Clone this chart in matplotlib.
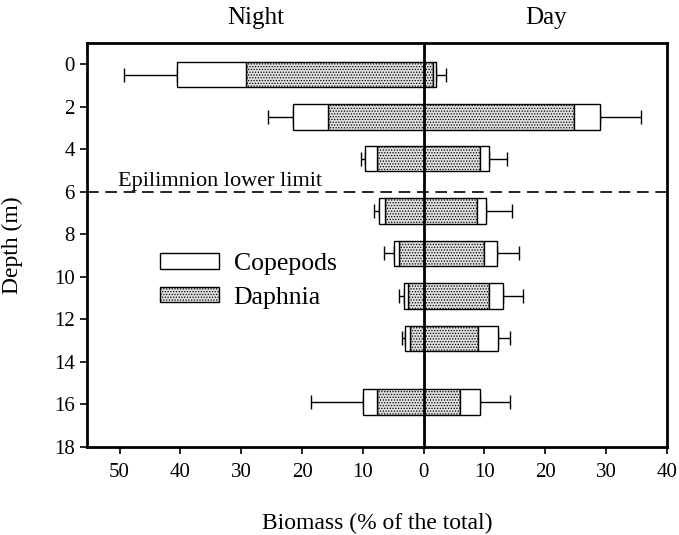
import matplotlib
matplotlib.use("Agg")
import matplotlib.pyplot as plt
from matplotlib.patches import Patch
import numpy as np

plt.rcParams['font.family'] = ['Liberation Serif', 'DejaVu Serif']
plt.rcParams['hatch.color'] = '#707070'
plt.rcParams['hatch.linewidth'] = 0.6

# Data
depths = [0.5, 2.5, 4.45, 6.9, 8.9, 10.9, 12.9, 15.9]
night_daphnia = [29.2, 15.8, 7.6, 6.35, 4.1, 2.55, 2.3, 7.6]
night_copepods = [11.4, 5.7, 2.0, 1.05, 0.85, 0.75, 0.7, 2.4]
night_sd = [8.7, 4.1, 0.65, 0.8, 1.65, 0.8, 0.55, 8.5]
day_daphnia = [1.5, 24.8, 9.3, 8.7, 9.9, 10.7, 8.9, 6.0]
day_copepods = [0.6, 4.25, 1.4, 1.55, 2.2, 2.3, 3.3, 3.3]
day_sd = [1.6, 6.7, 3.0, 4.25, 3.65, 3.3, 2.05, 4.85]
xticks = [-50, -40, -30, -20, -10, 0, 10, 20, 30, 40]
xticklabels = ['50', '40', '30', '20', '10', '0', '10', '20', '30', '40']
yticks = [0, 2, 4, 6, 8, 10, 12, 14, 16, 18]
epilimnion = 6

fig = plt.figure(figsize=(6.79, 5.35), dpi=100)
ax = fig.add_axes([0.1277, 0.165, 0.8545, 0.755])

h = 1.2
nd = -np.array(night_daphnia)
nc = -np.array(night_copepods)
dd = np.array(day_daphnia)
dc = np.array(day_copepods)
daph_kw = dict(facecolor='#e0e0e0', edgecolor='black', hatch='......', linewidth=1.0, zorder=3)
cop_kw = dict(facecolor='white', edgecolor='black', linewidth=1.0, zorder=3)

ax.barh(depths, nd, height=h, **daph_kw)
ax.barh(depths, nc, left=nd, height=h, **cop_kw)
ax.barh(depths, dd, height=h, **daph_kw)
ax.barh(depths, dc, left=dd, height=h, **cop_kw)

ntot = nd + nc
dtot = dd + dc
ax.errorbar(ntot, depths, xerr=[night_sd, np.zeros(len(depths))], fmt='none',
            ecolor='black', elinewidth=1.0, capsize=5, capthick=1.0, zorder=2)
ax.errorbar(dtot, depths, xerr=[np.zeros(len(depths)), day_sd], fmt='none',
            ecolor='black', elinewidth=1.0, capsize=5, capthick=1.0, zorder=2)

ax.axvline(0, color='black', linewidth=2, zorder=4)
ax.axhline(epilimnion, color='black', linewidth=1.2, dashes=(7, 4), zorder=1)
ax.text(-50.3, 5.72, 'Epilimnion lower limit', fontsize=16, va='baseline', ha='left')

ax.set_xlim(-55.4, 40)
ax.set_ylim(18, -1)
ax.set_xticks(xticks)
ax.set_xticklabels(xticklabels)
ax.set_yticks(yticks)
ax.tick_params(axis='both', labelsize=15, direction='out', length=5, width=1.2)
ax.tick_params(axis='x', pad=7)
for s in ax.spines.values():
    s.set_linewidth(2)

ax.set_xlabel('Biomass (% of the total)', fontsize=17, labelpad=22)
ax.set_ylabel('Depth (m)', fontsize=17, labelpad=22)

fig.text(256 / 679, 1 - 18 / 535, 'Night', fontsize=18, ha='center', va='center')
fig.text(546 / 679, 1 - 18 / 535, 'Day', fontsize=18, ha='center', va='center')

handles = [Patch(facecolor='white', edgecolor='black', linewidth=1.0, label='Copepods'),
           Patch(facecolor='#e0e0e0', edgecolor='black', hatch='......', linewidth=1.0, label='Daphnia')]
ax.legend(handles=handles, loc='upper left', bbox_to_anchor=(0.087, 0.537), frameon=False,
          fontsize=18.5, handlelength=2.3, handleheight=0.55, handletextpad=0.55, labelspacing=0.45)

fig.savefig('out.png', dpi=100)
